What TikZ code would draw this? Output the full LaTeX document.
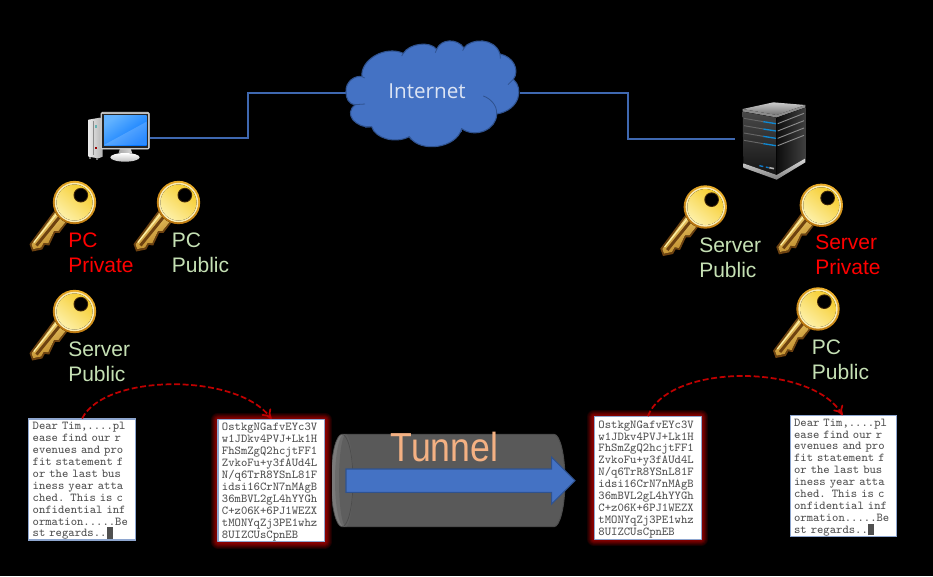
\documentclass[tikz,border=0pt]{standalone}
\usepackage{fontspec}
\usepackage{graphicx}
\setmainfont{Liberation Sans}
\newfontfamily\cloudfont{Open Sans}
\usetikzlibrary{calc,arrows.meta}
\definecolor{pubgreen}{HTML}{C5E0B4}
\definecolor{lineblue}{HTML}{3F68B0}
\definecolor{shapeblue}{HTML}{4472C4}
\definecolor{shapeedge}{HTML}{2F528F}
\definecolor{darkred}{HTML}{C00000}
\definecolor{peach}{HTML}{F4B183}
\definecolor{boxedge}{HTML}{8EA6CF}
\definecolor{msgtext}{HTML}{505050}
\definecolor{keyrimA}{HTML}{EDB02A}
\definecolor{keyrimB}{HTML}{B8740F}
\definecolor{keyringlt}{HTML}{FBEDB4}
\definecolor{keygoldA}{HTML}{F6CC2C}
\definecolor{keygoldB}{HTML}{FDF0A8}
\definecolor{keyshaftA}{HTML}{F0D070}
\definecolor{keyshaftB}{HTML}{B98222}
\definecolor{keybrown}{HTML}{6E4210}
\newcommand{\plainmsg}{\rule{0pt}{.85em}Dear Tim,....pl\\ease find our r\\evenues and pro\\fit statement f\\or the last bus\\iness year atta\\ched. This is c\\onfidential inf\\ormation.....Be\\st regards..\rule[-0.15em]{0.5em}{.95em}}
\newcommand{\ciphermsg}{\rule{0pt}{.85em}OstkgNGafvEYc3V\\w1JDkv4PVJ+Lk1H\\FhSmZgQ2hcjtFF1\\ZvkoFu+y3fAUd4L\\N/q6TrR8YSnL81F\\idsi16CrN7nMAgB\\36mBVL2gL4hYYGh\\C+z06K+6PJ1WEZX\\tMONYqZj3PE1whz\\8UIZCUsCpnEB}
\newcommand{\keyicon}[2]{%
\begin{scope}[shift={(#1,#2)},x=.25pt,y=-.25pt,line join=round]
  % shaft
  \fill[keybrown] (-60,24) -- (-135,125) -- (-127,147) -- (-97,141) -- (-89,127) -- (-76,129) -- (-58,91) -- (-45,91) -- (-20,58) -- cycle;
  \fill[top color=keyshaftA,bottom color=keyshaftB,shading angle=30] (-58,30) -- (-129,126) -- (-124,140) -- (-100,135) -- (-92,121) -- (-79,123) -- (-61,85) -- (-48,85) -- (-26,58) -- cycle;
  \draw[line width=2.2pt,keybrown] (-114,129) -- (-42,40);
  \draw[line width=.9pt,keygoldB] (-122,120) -- (-52,32);
  % head
  \fill[top color=keyrimA,bottom color=keyrimB,shading angle=-30] (0,0) circle (65);
  \fill[keyringlt] (0,0) circle (59);
  \fill[top color=keygoldA,bottom color=keygoldB,shading angle=-40] (0,0) circle (54);
  \fill[keybrown!60!black] (19,-22) circle (22);
  \fill[black] (19,-22) circle (19);
\end{scope}}
\tikzset{
  keylabel/.style={anchor=west,inner sep=0pt,align=left,font=\fontsize{15.75}{19.1}\selectfont},
  msgbox/.style={draw=boxedge,line width=.8pt,fill=white,text=msgtext,align=left,inner xsep=3pt,inner ysep=0pt,
    text width=74pt,font=\fontsize{9.07}{8.95}\selectfont\ttfamily},
  glowbox/.style={msgbox,line join=round,
    preaction={draw=red!10!black,line width=10.5pt},
    preaction={draw=red!18!black,line width=9pt},
    preaction={draw=red!27!black,line width=7.5pt},
    preaction={draw=red!36!black,line width=6pt},
    preaction={draw=red!44!black,line width=4.5pt},
    preaction={draw=red!50!black,line width=3pt},
    preaction={draw=red!54!black,line width=1.5pt}},
  link/.style={draw=lineblue,line width=1.5pt},
  hopcurve/.style={draw=darkred,line width=1.3pt,dash pattern=on 4.4pt off 2pt,-{To[length=7pt,width=8.5pt,line width=1.3pt]}},
}
\begin{document}
\begin{tikzpicture}[x=.75pt,y=-.75pt]
\fill[black] (0,0) rectangle (933,576);
\useasboundingbox (0,0) rectangle (933,576);

% named anchors of the connectors
\coordinate (pcport) at (150,138.3);
\coordinate (bendL) at (248,93);
\coordinate (cloudW) at (346,93);
\coordinate (cloudE) at (520,93);
\coordinate (bendR) at (628,138.5);
\coordinate (srvport) at (735,138.5);
\draw[link] (pcport) -| (bendL) -- (cloudW);
\draw[link] (cloudE) -| (bendR) -- (srvport);

% cloud
\begin{scope}[shift={(320,30)},x=.25pt,y=-.25pt,line join=round]
  \path[fill=shapeblue,draw=shapeedge,line width=.8pt] (78,185) .. controls (76,155) and (105,135) .. (126,140)
    .. controls (120,90) and (195,45) .. (250,70)
    .. controls (268,40) and (330,32) .. (350,58)
    .. controls (362,26) and (412,24) .. (432,54)
    .. controls (452,24) and (525,22) .. (540,72)
    .. controls (580,80) and (600,120) .. (580,148)
    .. controls (612,175) and (600,240) .. (530,252)
    .. controls (530,300) and (465,325) .. (425,296)
    .. controls (410,355) and (300,370) .. (268,320)
    .. controls (225,342) and (165,325) .. (155,290)
    .. controls (105,295) and (70,250) .. (106,224)
    .. controls (85,222) and (78,205) .. (78,185) -- cycle;
  \draw[shapeedge,line width=.6pt] (106,224) .. controls (115,222) and (125,224) .. (135,222);
  \draw[shapeedge,line width=.6pt] (155,290) -- (135,292);
  \draw[shapeedge,line width=.6pt] (126,140) -- (134,144);
  \draw[shapeedge,line width=.6pt] (250,70) -- (245,78);
  \draw[shapeedge,line width=.6pt] (350,58) -- (346,68);
  \draw[shapeedge,line width=.6pt] (432,54) -- (428,62);
  \draw[shapeedge,line width=.6pt] (540,72) -- (541,86);
  \draw[shapeedge,line width=.6pt] (580,148) -- (564,164);
  \draw[shapeedge,line width=.6pt] (530,252) .. controls (532,225) and (510,205) .. (490,198);
  \draw[shapeedge,line width=.6pt] (425,296) -- (425,306);
  \draw[shapeedge,line width=.6pt] (268,320) -- (272,328);
\end{scope}
\node[font=\cloudfont\fontsize{15.5}{18}\selectfont,text=white!82!shapeblue,inner sep=0pt] (cloud) at (427,91.5) {Internet};

% computer icon
\node[inner sep=0pt,minimum width=62pt,minimum height=40pt] (pc) at (112,137) {};
\begin{scope}[shift={(80,105)},x=.25pt,y=-.25pt,line join=round]
  \fill[left color=white!92!black,right color=black!30] (25,44) -- (60,38) -- (68,42) -- (68,155) -- (55,160) -- (25,155) -- cycle;
  \fill[black!45] (38,48) rectangle (41,150);
  \fill[teal!60] (44,60) rectangle (50,70);
  \fill[red!60!black] (44,125) rectangle (50,132);
  \fill[black!55] (28,155) rectangle (34,162);
  \fill[black!55] (48,158) rectangle (54,164);
  \fill[left color=black!35,right color=black!15] (120,130) -- (152,130) -- (158,150) -- (114,150) -- cycle;
  \fill[top color=white,bottom color=black!25] (135,157) ellipse (44 and 13);
  \fill[black!25,draw=black!15,line width=.6pt,rounded corners=1pt] (63,22) rectangle (208,132);
  \fill[black!85] (67,26) rectangle (204,128);
  \fill[top color=white!55!cyan!70!blue,bottom color=blue!55!cyan,shading angle=35] (72,32) rectangle (200,120);
  \fill[white,opacity=.18] (72,120) -- (200,50) -- (200,120) -- cycle;
\end{scope}

% server icon
\node[inner sep=0pt,minimum width=60pt,minimum height=60pt] (srv) at (770,140) {};
\begin{scope}[shift={(730,95)},x=.25pt,y=-.25pt,line join=round]
  \fill[top color=black!20,bottom color=black!55] (38,42) -- (130,22) -- (226,30) -- (140,60) -- cycle;
  \fill[black!45] (38,42) -- (140,60) -- (226,30) -- (226,38) -- (140,68) -- (38,50) -- cycle;
  \fill[top color=black!72,bottom color=black!92] (38,50) -- (140,68) -- (140,240) -- (40,205) -- cycle;
  \fill[left color=black!95,right color=black!75] (140,68) -- (226,38) -- (226,190) -- (140,240) -- cycle;
  \fill[top color=black!15,bottom color=black!50] (40,205) -- (140,240) -- (226,190) -- (226,202) -- (140,254) -- (40,218) -- cycle;
  \foreach \yy in {0,22,44,66} {
    \draw[black!60,line width=.7pt] (42,70+\yy) -- (100,80+\yy);
    \draw[cyan!70!blue,line width=1pt] (100,80+\yy) -- (138,86+\yy);
    \draw[black!45,line width=.7pt] (143,86+\yy) -- (222,55+\yy);
  }
  \draw[cyan!60!blue,line width=1pt,dash pattern=on 3pt off 2pt] (88,212) -- (116,218);
  \draw[white!70!black,line width=1.2pt] (118,218) -- (132,221);
\end{scope}

% keys
\keyicon{74.5}{202.5}
\keyicon{178.5}{202.5}
\keyicon{74.5}{311.5}
\keyicon{705.3}{207}
\keyicon{821.3}{205.3}
\keyicon{818}{309}

% key labels
\node[keylabel,text=red] (l1) at (68,253) {PC\\Private};
\node[keylabel,text=pubgreen] (l2) at (171.7,253) {PC\\Public};
\node[keylabel,text=pubgreen] (l3) at (68,362) {Server\\Public};
\node[keylabel,text=pubgreen] (l4) at (699,257.5) {Server\\Public};
\node[keylabel,text=red] (l5) at (815,255) {Server\\Private};
\node[keylabel,text=pubgreen] (l6) at (811.7,360) {PC\\Public};

% tunnel
\path[fill=black!65,draw=black!70,line width=.7pt] (342,434.3) -- (554,434.3) arc[x radius=11,y radius=46.2,start angle=-90,end angle=90] -- (342,526.7) -- cycle;
\fill[black!52] (342,480.5) ellipse (11 and 46.2);
\fill[black!58] (344,480.5) ellipse (9 and 46.2);
\fill[black!63] (346,480.5) ellipse (7 and 46.2);
\draw[black!70,line width=.5pt] (342,480.5) ellipse (11 and 46.2);
\node[inner sep=0pt,text=peach,font=\fontsize{30.4}{34}\selectfont] (tunnel) at (444.5,447) {\scalebox{.88}[1]{Tunnel}};
\path[fill=shapeblue,draw=shapeedge,line width=.8pt,line join=miter] (346,469) -- (551.7,469) -- (551.7,457.3) -- (575,480.7) -- (551.7,504) -- (551.7,492.3) -- (346,492.3) -- cycle;

% messages
\node[msgbox,minimum height=90.75pt] (m1) at (82,479.5) {\plainmsg};
\node[glowbox,minimum height=91.5pt] (m2) at (271.3,480.5) {\ciphermsg};
\node[glowbox,minimum height=92pt] (m3) at (647.8,478) {\ciphermsg};
\node[msgbox,minimum height=90pt] (m4) at (843.4,476) {\plainmsg};

% dashed hops
\draw[hopcurve] ($(m1.north west)+(54,0)$) .. controls (105,373) and (238,373) .. ($(m2.north west)+(54,0)$);
\draw[hopcurve] ($(m3.north west)+(54,0)$) .. controls (668,363) and (812,363) .. ($(m4.north west)+(53,0)$);
\end{tikzpicture}
\end{document}
